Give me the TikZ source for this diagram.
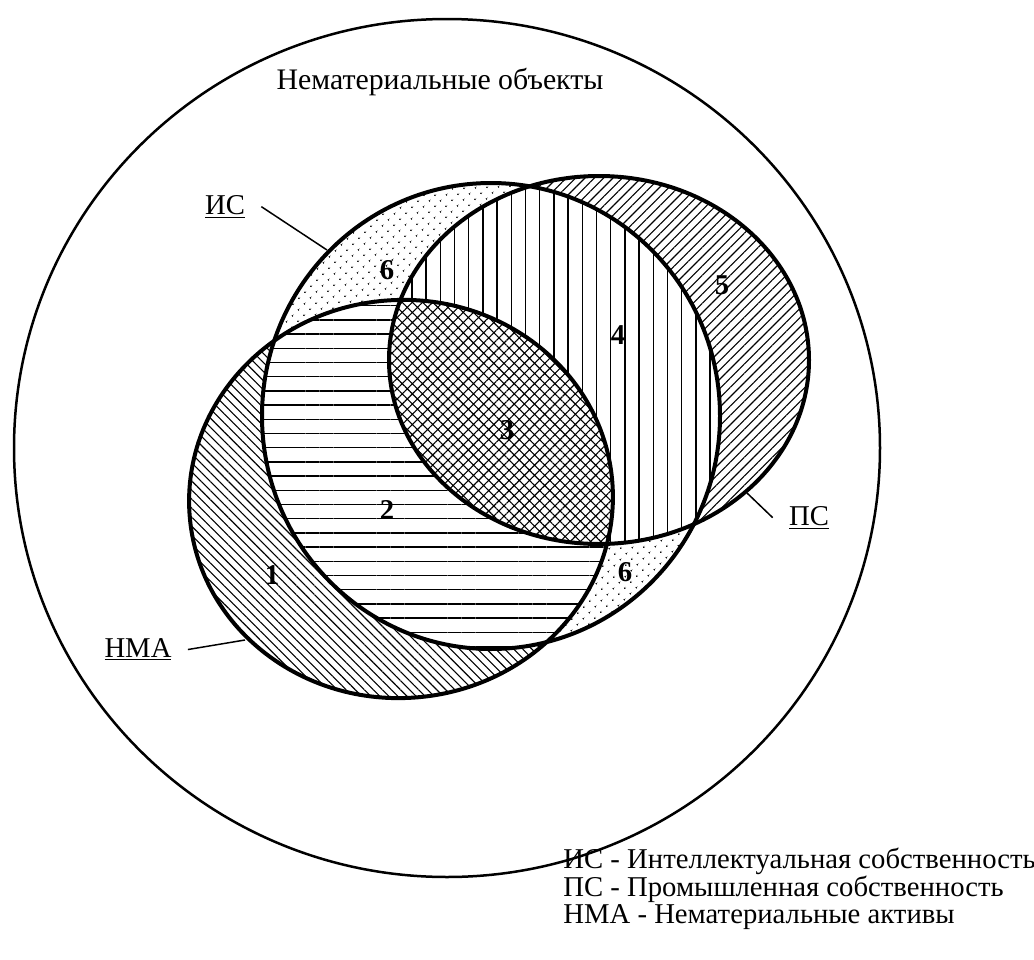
\documentclass[tikz,border=0pt]{standalone}
\usepackage{fontspec}
\setmainfont{Liberation Serif}
\usepackage{tikz}
\usetikzlibrary{patterns.meta}

\newcommand{\shIS}{(491,416) ellipse [x radius=229, y radius=233]}
\newcommand{\shPS}{(599,360) ellipse [x radius=210, y radius=184]}
\newcommand{\shNMA}{(401,499) ellipse [x radius=212, y radius=199, rotate=5]}

\tikzset{
  zone1/.style={preaction={fill=white}, pattern={Lines[angle=-45,distance=3.2pt,line width=0.55pt]}},
  zone2/.style={preaction={fill=white}, pattern={Lines[angle=0,distance=7.1pt,line width=0.7pt]}},
  zone3/.style={preaction={fill=white}, pattern={Hatch[angle=45,distance=3.6pt,line width=0.55pt]}},
  zone4/.style={preaction={fill=white}, pattern={Lines[angle=90,distance=7.1pt,line width=0.7pt]}},
  zone5/.style={preaction={fill=white}, pattern={Lines[angle=45,distance=3.3pt,line width=0.55pt]}},
  zone6/.style={preaction={fill=white}, pattern={Dots[angle=45,distance=4pt,radius=0.5pt]}},
  rim/.style={line width=2pt},
  leader/.style={line width=0.75pt},
  tag/.style={inner sep=8pt},
  num/.style={font=\fontsize{14.35}{17}\selectfont\bfseries, inner sep=0pt}
}

\begin{document}
\begin{tikzpicture}[x=0.5pt,y=-0.5pt,font=\fontsize{14.35}{17}\selectfont]
\useasboundingbox (0,0) rectangle (1034,959);
\draw[line width=1.25pt] (447,448) ellipse [x radius=433, y radius=429];
\node[anchor=base,font=\fontsize{14.9}{17}\selectfont] (title) at (440,89) {Нематериальные объекты};

\path[zone6] \shIS;
\path[zone5] \shPS;
\begin{scope}
\clip \shIS;
\path[zone4] \shPS;
\end{scope}
\path[zone1] \shNMA;
\begin{scope}
\clip \shIS;
\path[zone2] \shNMA;
\end{scope}
\begin{scope}
\clip \shPS;
\path[zone3] \shNMA;
\end{scope}
\draw[rim] \shIS;
\draw[rim] \shPS;
\draw[rim] \shNMA;

\node[num] (n1) at (272,575) {1};
\node[num] (n2) at (387,510) {2};
\node[num] (n3) at (507,430) {3};
\node[num] (n4) at (618,335) {4};
\node[num] (n5) at (722,285) {5};
\node[num] (n6a) at (387,270) {6};
\node[num] (n6b) at (625,572) {6};

\node[tag,anchor=base] (lIS) at (225,214) {\underline{ИС}};
\node[tag,anchor=base] (lPS) at (809,525) {\underline{ПС}};
\node[tag,anchor=base] (lNMA) at (138,657) {\underline{НМА}};
\coordinate (pIS) at (327,250);
\coordinate (pPS) at (747,493);
\coordinate (pNMA) at (245,640);
\draw[leader] (lIS.east) -- (pIS);
\draw[leader] (lPS.west) -- (pPS);
\draw[leader] (lNMA.east) -- (pNMA);

\node[anchor=base west,inner sep=0pt] (leg1) at (563,868) {ИС - Интеллектуальная собственность};
\node[anchor=base west,inner sep=0pt] (leg2) at (563,896) {ПС - Промышленная собственность};
\node[anchor=base west,inner sep=0pt] (leg3) at (563,923) {НМА - Нематериальные активы};
\end{tikzpicture}
\end{document}
